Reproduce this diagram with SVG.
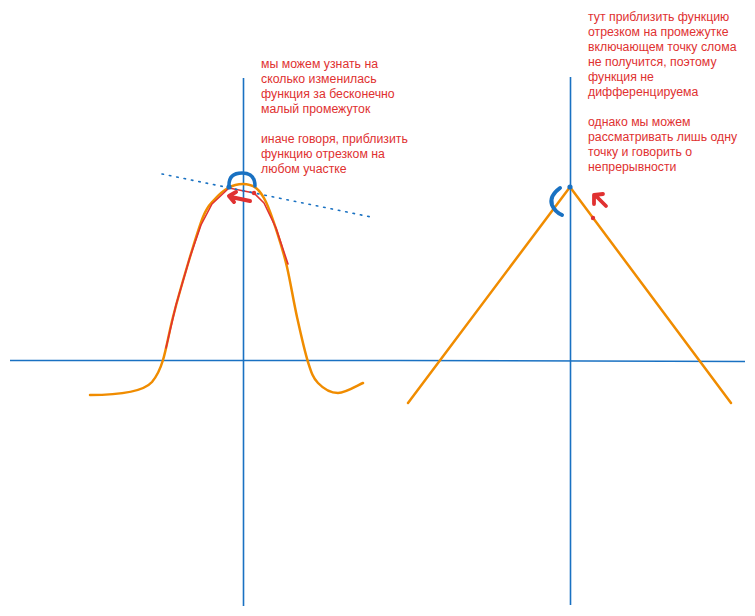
<svg xmlns="http://www.w3.org/2000/svg" width="755" height="616" viewBox="0 0 755 616">
<style>
.ax{stroke:#1971c2;stroke-width:1.6;fill:none}
.fn{stroke:#f08c00;stroke-width:2.5;fill:none;stroke-linecap:round;stroke-linejoin:round}
.rd{stroke:#e03131;fill:none;stroke-linecap:round;stroke-linejoin:round}
.bl{stroke:#1971c2;fill:none;stroke-linecap:round}
.t{font-family:"Liberation Sans",Arial,sans-serif;font-size:12.3px;fill:#e03131}
</style>
<rect width="755" height="616" fill="#ffffff"/>
<g id="connectors">
<path class="ax" d="M10,360.5 L400,360.5"/>
<path class="ax" d="M400,360.5 L745,361.5"/>
<path class="ax" d="M243.5,78 L243.5,606"/>
<path class="ax" d="M570.5,77 L570.5,605"/>
</g>
<g id="bell-curve">
<path class="fn" d="M90,395 C120,395 143,392 152,382 C157,376 160,370 163,360 C166.3,349.3 169,332.5 173,317 C177,301.5 182,283.7 187,267 C192,250.3 198.5,228.2 203,217 C207.5,205.8 209.8,204.8 214,200 C218.2,195.2 223.2,190.7 228,188 C232.8,185.3 238.3,184 243,184 C247.7,184 252.3,185.3 256,188 C259.8,191 262.5,194.7 266,202 C269.5,209.3 273.5,221.2 277,232 C280.5,242.8 283.7,252.8 287,267 C290.3,281.2 293.5,301.2 297,317 C300.5,332.8 304.5,351 308,362 C311.5,373 313,377.8 318,383 C323,388.2 330.5,393 338,393 C345.5,393 358.8,384.7 363,383"/>
<path class="rd" stroke-width="1.6" d="M166,348 L176,305 L190,257 L201,225 L212,204 L229,188 L254,193 L264,203 L276,228 L288,264"/>
</g>
<g id="tangent">
<path class="bl" stroke-width="1.6" stroke-dasharray="1.5 6" d="M162,174 L371,217"/>
</g>
<g id="left-point">
<path class="bl" stroke-width="3.5" d="M229,185 Q229,173 242,173 Q255,173 255,186"/>
<circle cx="229" cy="187" r="2.6" fill="#1971c2"/>
<circle cx="254" cy="193" r="2.2" fill="#e03131"/>
<path class="rd" stroke-width="4" d="M250,201 L231,197 M236,192 L229,196 L234,202"/>
</g>
<g id="v-curve">
<path class="fn" stroke-width="2.2" d="M408,403 L570,187 L731,403"/>
</g>
<g id="right-point">
<path class="bl" stroke-width="4" d="M560,188 Q549,196 552,205 Q555,212 562,215"/>
<circle cx="570" cy="187" r="2.6" fill="#1971c2"/>
<circle cx="593" cy="218" r="2.2" fill="#e03131"/>
<path class="rd" stroke-width="3.8" d="M595,195 L606,206 M594,204 L594,195 L603,194"/>
</g>
<g id="left-text">
<text class="t" x="261" y="68">мы можем узнать на</text>
<text class="t" x="261" y="83">сколько изменилась</text>
<text class="t" x="261" y="98">функция за бесконечно</text>
<text class="t" x="261" y="113">малый промежуток</text>
<text class="t" x="261" y="143">иначе говоря, приблизить</text>
<text class="t" x="261" y="158">функцию отрезком на</text>
<text class="t" x="261" y="173">любом участке</text>
</g>
<g id="right-text">
<text class="t" x="588" y="21">тут приблизить функцию</text>
<text class="t" x="588" y="36">отрезком на промежутке</text>
<text class="t" x="588" y="51">включающем точку слома</text>
<text class="t" x="588" y="66">не получится, поэтому</text>
<text class="t" x="588" y="81">функция не</text>
<text class="t" x="588" y="96">дифференцируема</text>
<text class="t" x="588" y="126">однако мы можем</text>
<text class="t" x="588" y="141">рассматривать лишь одну</text>
<text class="t" x="588" y="156">точку и говорить о</text>
<text class="t" x="588" y="171">непрерывности</text>
</g>
</svg>
